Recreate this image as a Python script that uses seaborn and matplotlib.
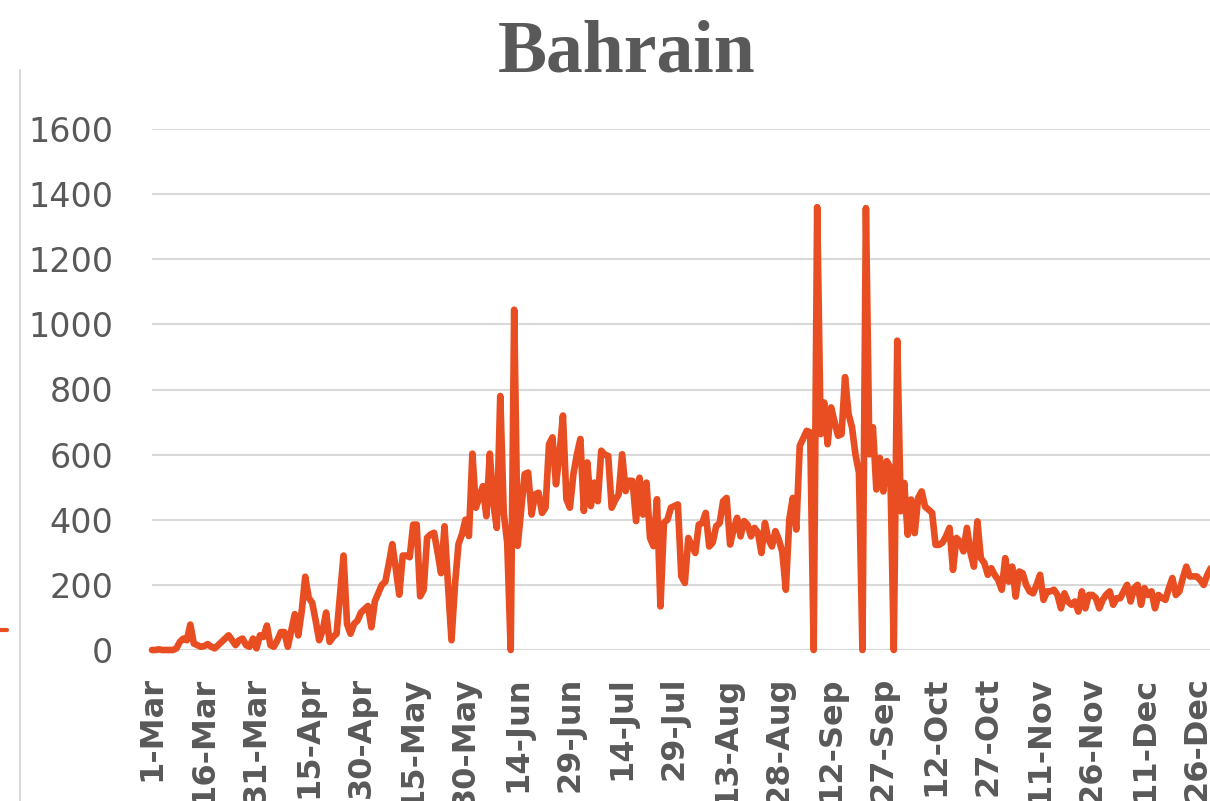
import numpy as np
import pandas as pd
import matplotlib
matplotlib.use("Agg")
import matplotlib.pyplot as plt
import seaborn as sns
from matplotlib.lines import Line2D

# daily new cases, Bahrain, starting 1-Mar
daily_cases = [
    0, 0, 2, 0, 0, 0, 0, 5, 25, 35,            # 0-9
    30, 78, 20, 15, 10, 12, 18, 10, 5, 15,     # 10-19
    25, 35, 45, 30, 15, 30, 35, 15, 10, 35,    # 20-29
    5, 45, 40, 75, 15, 10, 30, 55, 55, 10,     # 30-39
    60, 110, 45, 120, 225, 160, 145, 90, 30, 60,   # 40-49
    115, 25, 40, 50, 170, 290, 80, 50, 80, 90,     # 50-59
    115, 125, 135, 70, 150, 175, 200, 210, 265, 325,   # 60-69
    250, 170, 290, 290, 285, 385, 385, 165, 185, 345,  # 70-79
    355, 360, 300, 236, 380, 200, 30, 200, 325, 355,   # 80-89
    400, 350, 603, 437, 470, 503, 411, 603, 450, 375,  # 90-99
    780, 420, 330, 0, 1045, 320, 430, 540, 545, 416,   # 100-109
    478, 483, 421, 437, 632, 653, 509, 600, 720, 463,  # 110-119
    437, 540, 600, 648, 427, 576, 442, 514, 457, 612,  # 120-129
    600, 596, 437, 460, 478, 601, 488, 520, 519, 396,  # 130-139
    529, 416, 514, 344, 319, 463, 134, 391, 400, 437,  # 140-149
    442, 447, 226, 206, 344, 320, 298, 385, 390, 421,  # 150-159
    318, 330, 380, 390, 457, 467, 324, 370, 406, 349,  # 160-169
    396, 385, 349, 375, 360, 298, 390, 340, 318, 365,  # 170-179
    339, 300, 185, 401, 467, 370, 627, 650, 673, 668,  # 180-189
    0, 1360, 663, 760, 632, 745, 700, 658, 663, 838,   # 190-199
    725, 684, 600, 545, 0, 1357, 601, 684, 493, 590,   # 200-209
    487, 580, 560, 0, 950, 426, 513, 354, 462, 359,    # 210-219
    467, 487, 440, 431, 421, 323, 323, 330, 349, 375,  # 220-229
    246, 344, 333, 303, 375, 300, 256, 395, 282, 267,  # 230-239
    231, 251, 230, 215, 185, 282, 210, 256, 164, 241,  # 240-249
    236, 200, 180, 174, 200, 231, 154, 180, 180, 185,  # 250-259
    169, 128, 174, 149, 139, 149, 118, 180, 128, 169,  # 260-269
    169, 160, 128, 154, 170, 180, 139, 159, 159, 180,  # 270-279
    200, 149, 190, 200, 139, 190, 169, 180, 128, 169,  # 280-289
    160, 154, 190, 221, 169, 180, 221, 256, 226, 226,  # 290-299
    226, 215, 200, 230, 251,                           # 300-304
]

tick_days = list(range(0, 301, 15))
tick_labels = ['1-Mar', '16-Mar', '31-Mar', '15-Apr', '30-Apr', '15-May',
               '30-May', '14-Jun', '29-Jun', '14-Jul', '29-Jul', '13-Aug',
               '28-Aug', '12-Sep', '27-Sep', '12-Oct', '27-Oct', '11-Nov',
               '26-Nov', '11-Dec', '26-Dec']
y_ticks = [0, 200, 400, 600, 800, 1000, 1200, 1400, 1600]

df = pd.DataFrame({'day': np.arange(len(daily_cases)), 'cases': daily_cases})

sns.set_style("white")
plt.rcParams['font.family'] = ['DejaVu Sans']

grey = '#595959'
fig = plt.figure(figsize=(12.1, 8.01), dpi=100)
ax = fig.add_axes([152 / 1210, 151 / 801, 1 - 152 / 1210, (650 - 129) / 801])

sns.lineplot(data=df, x='day', y='cases', ax=ax, color='#E84E22',
             linewidth=4.8, solid_joinstyle='round', solid_capstyle='round',
             clip_on=False, zorder=3)

ax.set_xlim(0, 303.8)
ax.set_ylim(0, 1600)
ax.set_yticks(y_ticks)
ax.set_yticklabels([str(v) for v in y_ticks], fontsize=24, color=grey)
ax.set_xticks(tick_days)
ax.set_xticklabels(tick_labels, rotation=90, fontsize=23, fontweight='bold',
                   color=grey, va='top', ha='center')
ax.tick_params(axis='y', length=0, pad=28)
ax.tick_params(axis='x', length=0, pad=19)
ax.set_xlabel('')
ax.set_ylabel('')
ax.grid(axis='y', color='#D9D9D9', linewidth=1.5)
ax.grid(axis='x', visible=False)
for s in ax.spines.values():
    s.set_visible(False)

fig.text(627 / 1210, (801 - 72) / 801, 'Bahrain', ha='center', va='baseline',
         fontsize=53, fontweight='bold', color=grey, family='Liberation Serif')

# edge of the neighbouring chart on the left
fig.add_artist(Line2D([20 / 1210, 20 / 1210], [0, (801 - 70) / 801],
                      color='#D9D9D9', linewidth=1.5))
fig.add_artist(Line2D([0, 7 / 1210], [(801 - 630) / 801, (801 - 630) / 801],
                      color='#E84E22', linewidth=3))

fig.savefig('out.png', dpi=100)
